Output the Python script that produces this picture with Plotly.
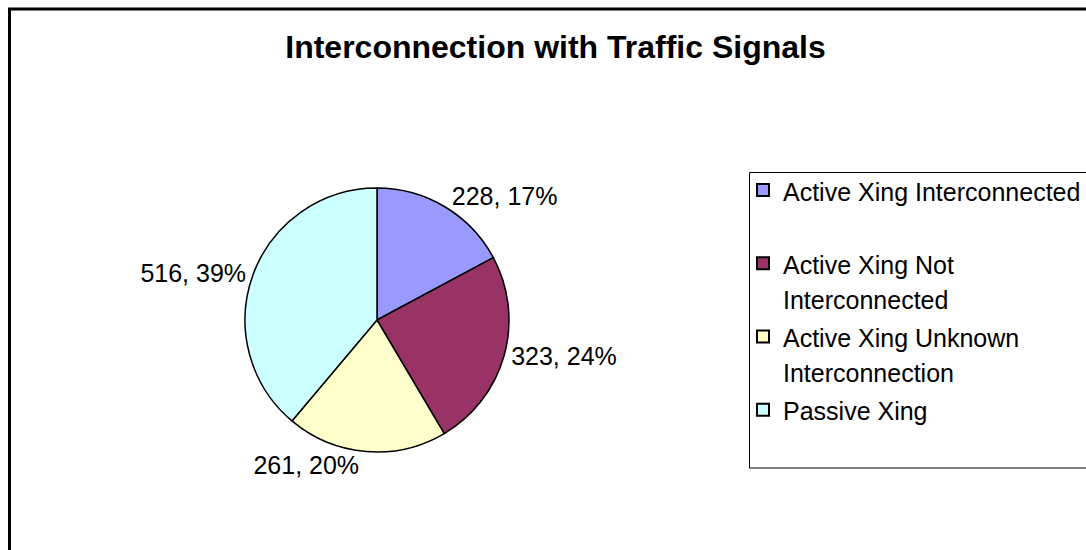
import plotly.graph_objects as go

categories = ["Active Xing Interconnected\n ",
              "Active Xing Not\nInterconnected",
              "Active Xing Unknown\nInterconnection",
              "Passive Xing\n "]
values = [228, 323, 261, 516]
colors = ["#9999FF", "#993366", "#FFFFCC", "#CCFFFF"]

W, H = 1086, 550
cx, cy, r = 377, 320, 132
FONT = "Liberation Sans, Arial"


def legend_name(s):
    return "<br>".join(f"<span style='font-size:25px'>{ln}</span>" if ln.strip() else ln
                       for ln in s.split("\n"))


fig = go.Figure(go.Pie(
    labels=[legend_name(c) for c in categories],
    values=values,
    sort=False,
    direction="clockwise",
    rotation=0,
    marker=dict(colors=colors, line=dict(color="black", width=1.5)),
    texttemplate="%{value}, %{percent:.0%}",
    textposition="outside",
    textfont=dict(family=FONT, size=25, color="black"),
    hoverinfo="value+percent",
    domain=dict(x=[(cx - r) / W, (cx + r) / W],
                y=[(H - cy - r) / H, (H - cy + r) / H]),
))

fig.update_layout(
    width=W, height=H,
    margin=dict(l=0, r=0, t=0, b=0),
    paper_bgcolor="white",
    plot_bgcolor="white",
    font=dict(family=FONT, color="black"),
    title=dict(text="<b>Interconnection with Traffic Signals</b>",
               x=555.5 / W, xanchor="center", y=1 - 47 / H, yanchor="middle",
               font=dict(size=32, color="black", family=FONT)),
    showlegend=True,
    legend=dict(x=743 / W, xanchor="left", y=1 - 166 / H, yanchor="top",
                borderwidth=0, bgcolor="rgba(0,0,0,0)", valign="top",
                font=dict(size=27, family=FONT, color="black"),
                traceorder="normal", itemsizing="constant"),
    shapes=[
        dict(type="rect", xref="paper", yref="paper",
             x0=9.5 / W, x1=1.2, y0=-0.2, y1=1 - 9 / H,
             line=dict(color="black", width=3), fillcolor="rgba(0,0,0,0)"),
        dict(type="rect", xref="paper", yref="paper",
             x0=749.5 / W, x1=1.2, y0=1 - 468 / H, y1=1 - 172.5 / H,
             line=dict(color="black", width=1), fillcolor="rgba(0,0,0,0)"),
    ],
)

fig.write_html("out.html", config={"displayModeBar": False},
               post_script="document.body.style.margin='0';")
